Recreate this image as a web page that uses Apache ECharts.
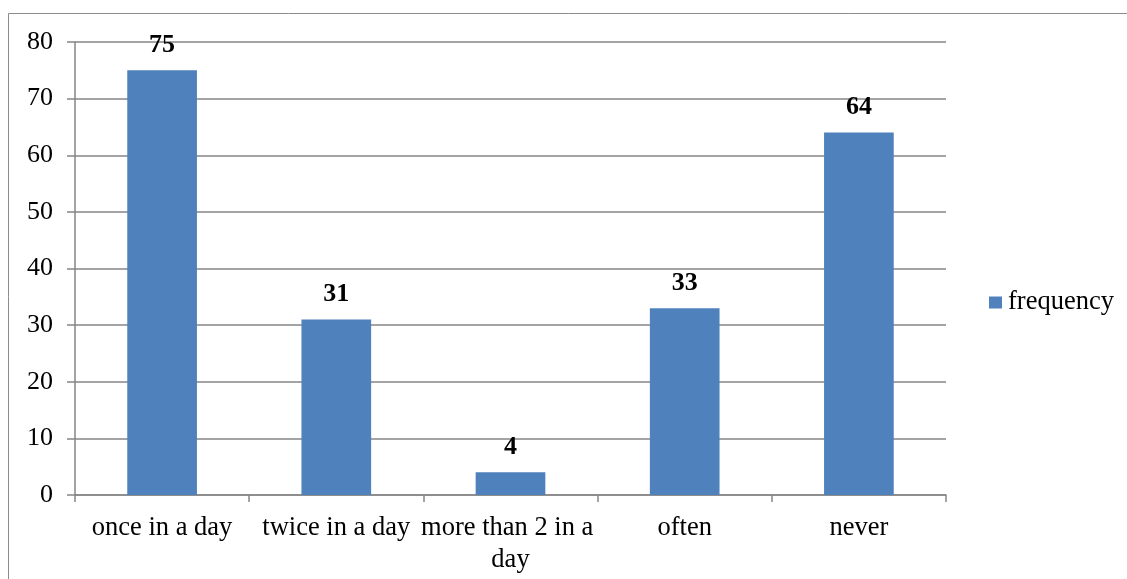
<!DOCTYPE html>
<html>
<head>
<meta charset="utf-8">
<style>
  html, body { margin: 0; padding: 0; background: #fff; }
  #chart { width: 1127px; height: 579px; }
</style>
<script src="https://cdn.jsdelivr.net/npm/echarts@6/dist/echarts.min.js"></script>
</head>
<body>
<div id="chart"></div>
<script>
// How often: frequency counts per answer
const categories = ['once in a day', 'twice in a day', 'more than 2 in a day', 'often', 'never'];
const frequency = [75, 31, 4, 33, 64];
const seriesName = 'frequency';

const FONT = '"Liberation Serif", "Times New Roman", serif';
const GRID_GRAY = '#868686';

const chart = echarts.init(document.getElementById('chart'), null, { renderer: 'canvas' });

chart.setOption({
  backgroundColor: '#ffffff',
  animation: false,
  graphic: [{
    type: 'rect',
    silent: true,
    z: -1,
    shape: { x: 8.5, y: 13.5, width: 1300, height: 800 },
    style: { fill: 'none', stroke: '#8c8c8c', lineWidth: 1 }
  }],
  grid: { left: 75, right: 181, top: 42, bottom: 84 },
  legend: {
    data: [seriesName],
    orient: 'vertical',
    left: 984,
    top: 284,
    itemWidth: 13,
    itemHeight: 12,
    itemGap: 0,
    icon: 'rect',
    textStyle: { fontFamily: FONT, fontSize: 26.5, color: '#000', padding: [0, 0, 0, 1] }
  },
  xAxis: {
    type: 'category',
    data: categories,
    boundaryGap: true,
    axisLine: { show: true, lineStyle: { color: GRID_GRAY, width: 1.5 } },
    axisTick: { show: true, alignWithLabel: false, length: 7, lineStyle: { color: GRID_GRAY, width: 1.5 } },
    axisLabel: {
      interval: 0,
      margin: 17,
      width: 180,
      overflow: 'break',
      lineHeight: 32,
      fontFamily: FONT,
      fontSize: 26.5,
      color: '#000'
    },
    splitLine: { show: false }
  },
  yAxis: {
    type: 'value',
    min: 0,
    max: 80,
    interval: 10,
    axisLine: { show: true, lineStyle: { color: GRID_GRAY, width: 1.5 } },
    axisTick: { show: true, length: 8, lineStyle: { color: GRID_GRAY, width: 1.5 } },
    axisLabel: { margin: 22, fontFamily: FONT, fontSize: 26, color: '#000' },
    splitLine: { show: true, lineStyle: { color: GRID_GRAY, width: 1.5 } }
  },
  series: [{
    name: seriesName,
    type: 'bar',
    data: frequency,
    barWidth: '40%',
    itemStyle: { color: '#4F81BD' },
    label: {
      show: true,
      position: 'top',
      distance: 12,
      fontFamily: FONT,
      fontSize: 26,
      fontWeight: 'bold',
      color: '#000'
    }
  }]
});
</script>
</body>
</html>
